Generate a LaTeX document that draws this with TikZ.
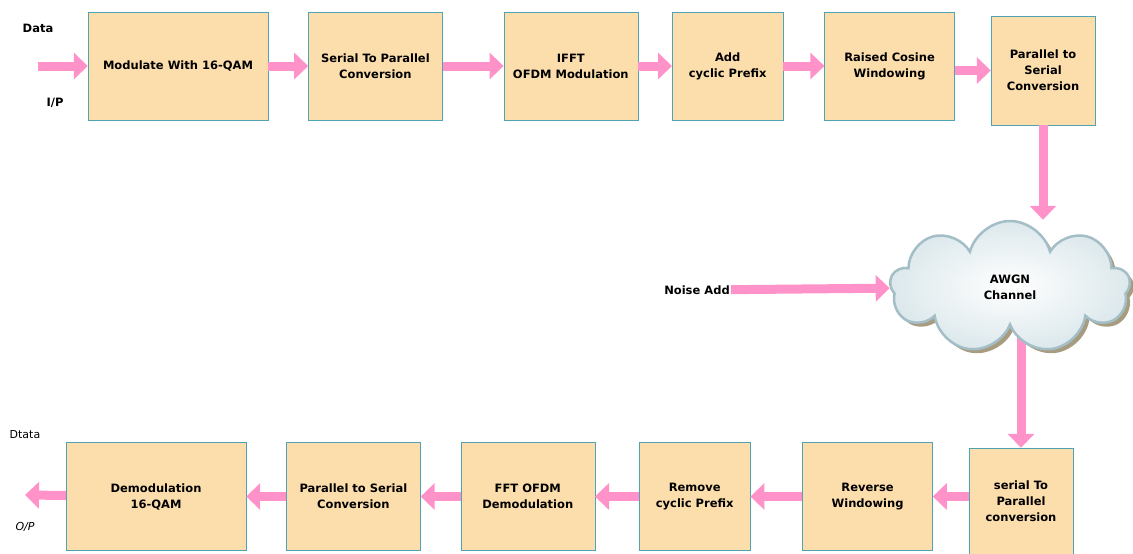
\documentclass[tikz,border=0pt]{standalone}
\usepackage{fontspec}
\setmainfont{DejaVu Sans}
\usetikzlibrary{shapes.symbols, arrows.meta, positioning, backgrounds}
\definecolor{boxfill}{HTML}{FCDEAC}
\definecolor{boxedge}{HTML}{4FA3B5}
\definecolor{arrowpink}{HTML}{FF93C9}
\definecolor{cloudedge}{HTML}{A3BEC6}
\definecolor{cloudfill}{HTML}{DCE8EC}
\definecolor{cloudshade}{HTML}{A89C80}

\begin{document}
\begin{tikzpicture}[x=1pt, y=-1pt, font=\bfseries\fontsize{11.5}{16}\selectfont]
% Define styles
\tikzstyle{block} = [rectangle, minimum height=108pt, text centered, align=center, draw=boxedge, fill=boxfill, inner sep=2pt]
\tikzstyle{fatarrow} = [line width=9pt, draw=arrowpink, -{Triangle[length=14pt, width=26pt]}]
\tikzstyle{tag} = [inner sep=1pt]

\useasboundingbox (0,0) rectangle (1133,554);

% Transmitter
\node (qam) [block, minimum width=180pt] at (178,66) {Modulate With 16-QAM};
\node (sp) [block, minimum width=134pt, right=40pt of qam] {Serial To Parallel\\Conversion};
\node (ifft) [block, minimum width=134pt, right=61pt of sp] {IFFT\\OFDM Modulation};
\node (addcp) [block, minimum width=111pt, right=34pt of ifft] {Add\\cyclic Prefix};
\node (rcw) [block, minimum width=130pt, right=41pt of addcp] {Raised Cosine\\Windowing};
\node (ps) [block, minimum width=104pt, minimum height=109pt, right=36pt of rcw, yshift=-4.5pt] {Parallel to\\Serial\\Conversion};

% Channel
\node (cloudshadow) [cloud, cloud puffs=9, aspect=1.8, minimum width=240pt, minimum height=132pt, fill=cloudshade] at (1014,291) {};
\node (cloud) [cloud, cloud puffs=9, aspect=1.8, minimum width=240pt, minimum height=132pt, draw=cloudedge, line width=2.5pt, inner color=white, outer color=cloudfill, align=center] at (1010,287) {AWGN\\Channel};
\node (noise) [tag] at (697,290) {Noise Add};

% Receiver
\node (rsp) [block, minimum width=104pt, minimum height=106pt] at (1021,501) {serial To\\Parallel\\conversion};
\node (rw) [block, minimum width=130pt, left=36pt of rsp, yshift=4.5pt] {Reverse\\Windowing};
\node (rcp) [block, minimum width=111pt, left=52pt of rw] {Remove\\cyclic Prefix};
\node (fft) [block, minimum width=134pt, left=44pt of rcp] {FFT OFDM\\Demodulation};
\node (rps) [block, minimum width=134pt, left=40pt of fft] {Parallel to Serial\\Conversion};
\node (demod) [block, minimum width=180pt, left=40pt of rps] {Demodulation\\16-QAM};

% Labels
\node (datain) [tag] at (38,28) {Data};
\node (ip) [tag] at (55,103) {I/P};
\node (dataout) [tag, font=\fontsize{11}{15}\selectfont] at (25,435) {Dtata};
\node (op) [tag, font=\itshape\fontsize{11}{15}\selectfont] at (25,527) {O/P};
\coordinate (src) at (38,66);
\coordinate (sink) at (25,495);

% Arrows
\draw[fatarrow] (src) -- (qam);
\draw[fatarrow] (qam) -- (sp);
\draw[fatarrow] (sp) -- (ifft);
\draw[fatarrow] (ifft) -- (addcp);
\draw[fatarrow] (addcp) -- (rcw);
\draw[fatarrow] (rcw.east |- ps) -- (ps);
\draw[fatarrow] (ps.south) -- (ps.south |- cloud.north);
\draw[fatarrow] (noise) -- (cloud);
\begin{scope}[on background layer]
\draw[fatarrow] (rsp |- cloud.center) -- (rsp.north);
\end{scope}
\draw[fatarrow] (rsp.west |- rw) -- (rw);
\draw[fatarrow] (rw) -- (rcp);
\draw[fatarrow] (rcp) -- (fft);
\draw[fatarrow] (fft) -- (rps);
\draw[fatarrow] (rps) -- (demod);
\draw[fatarrow] (demod) -- (sink);
\end{tikzpicture}
\end{document}
